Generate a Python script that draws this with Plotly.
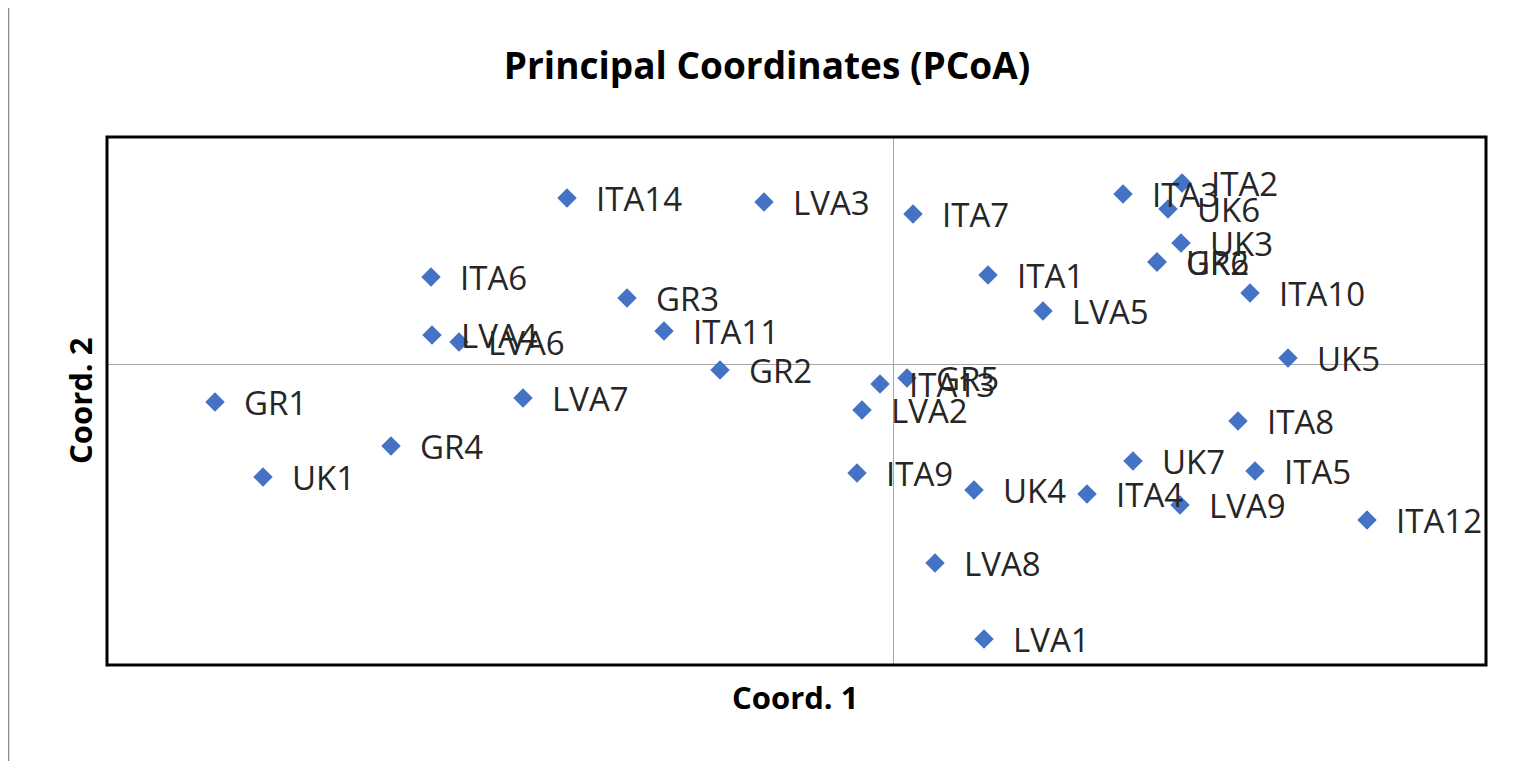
import plotly.graph_objects as go

# ============================================================
# Dados (coordenadas PCoA)
# ============================================================
amostras = [
    "ITA14", "LVA3", "ITA7", "ITA3", "ITA2", "UK6", "UK3", "GR6", "UK2",
    "ITA1", "ITA10", "ITA6", "GR3", "LVA5", "LVA4", "LVA6", "ITA11", "UK5",
    "GR2", "ITA13", "GR5", "GR1", "LVA7", "LVA2", "ITA8", "GR4", "UK7",
    "ITA5", "ITA9", "UK1", "UK4", "ITA4", "LVA9", "ITA12", "LVA8", "LVA1",
]
coord1 = [
    -0.163, -0.0645, 0.010, 0.115, 0.1445, 0.1375, 0.144, 0.132, 0.132,
    0.0475, 0.1785, -0.231, -0.133, 0.075, -0.2305, -0.217, -0.1145, 0.1975,
    -0.0865, -0.0065, 0.007, -0.339, -0.185, -0.0155, 0.1725, -0.251, 0.120,
    0.181, -0.018, -0.315, 0.0405, 0.097, 0.1435, 0.237, 0.021, 0.0455,
]
coord2 = [
    0.083, 0.081, 0.075, 0.085, 0.0905, 0.0775, 0.0605, 0.051, 0.051,
    0.0445, 0.0355, 0.0435, 0.033, 0.0265, 0.0145, 0.011, 0.0165, 0.003,
    -0.003, -0.010, -0.007, -0.019, -0.017, -0.023, -0.0285, -0.041, -0.0485,
    -0.0535, -0.0545, -0.0565, -0.063, -0.065, -0.0705, -0.078, -0.0995, -0.1375,
]

X_RANGE = [-0.393, 0.2965]
Y_RANGE = [-0.1505, 0.1135]

FONTE = "Open Sans, Noto Sans, sans-serif"

# ============================================================
# Gráfico
# ============================================================
fig = go.Figure()
fig.add_trace(
    go.Scatter(
        x=coord1,
        y=coord2,
        mode="markers",
        marker=dict(symbol="diamond", size=15, color="#4472C4"),
        hoverinfo="skip",
    )
)

# rótulos à direita de cada ponto
for nome, cx, cy in zip(amostras, coord1, coord2):
    fig.add_annotation(
        x=cx, y=cy, text=nome, showarrow=False,
        xanchor="left", yanchor="middle", xshift=27,
        font=dict(family=FONTE, size=33, color="#262626"),
    )

# títulos dos eixos
fig.add_annotation(
    x=0.499, y=-0.0606, xref="paper", yref="paper", text="<b>Coord. 1</b>",
    showarrow=False, xanchor="center", yanchor="middle",
    font=dict(family=FONTE, size=31, color="black"),
)
fig.add_annotation(
    x=-0.0196, y=0.5, xref="paper", yref="paper", text="<b>Coord. 2</b>",
    showarrow=False, xanchor="center", yanchor="middle", textangle=-90,
    font=dict(family=FONTE, size=31, color="black"),
)

fig.update_layout(
    width=1516,
    height=761,
    margin=dict(l=99, r=38, t=129, b=104),
    paper_bgcolor="white",
    plot_bgcolor="white",
    showlegend=False,
    title=dict(
        text="<b>Principal Coordinates (PCoA)</b>",
        x=0.5007, xanchor="center",
        y=1 - 58 / 761, yanchor="middle",
        font=dict(family=FONTE, size=37, color="black"),
    ),
    xaxis=dict(
        range=X_RANGE, showgrid=False, showticklabels=False, ticks="",
        zeroline=True, zerolinecolor="#a6a6a6", zerolinewidth=1,
    ),
    yaxis=dict(
        range=Y_RANGE, showgrid=False, showticklabels=False, ticks="",
        zeroline=True, zerolinecolor="#a6a6a6", zerolinewidth=1,
    ),
)

# moldura preta da área de plotagem
fig.add_shape(
    type="rect", xref="paper", yref="paper", x0=0, y0=0, x1=1, y1=1,
    line=dict(color="black", width=3), fillcolor="rgba(0,0,0,0)", layer="above",
)

# contorno cinza da captura de tela
fig.add_shape(
    type="line", xref="paper", yref="paper",
    x0=-98.5 / 1379, x1=-98.5 / 1379, y0=-104 / 528, y1=1 + 129 / 528,
    line=dict(color="#8c8c8c", width=1.5),
)

fig.write_html("out.html")
